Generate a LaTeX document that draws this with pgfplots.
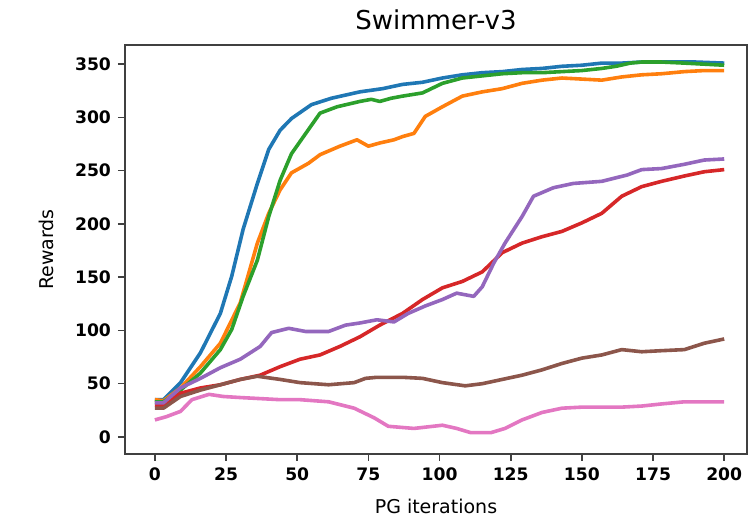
\documentclass[border=0pt]{standalone}
\usepackage{pgfplots}
\pgfplotsset{compat=1.18}
\usepackage{fontspec}
\setmainfont{DejaVu Sans}
\definecolor{c0}{HTML}{1F77B4}
\definecolor{c1}{HTML}{FF7F0E}
\definecolor{c2}{HTML}{2CA02C}
\definecolor{c3}{HTML}{D62728}
\definecolor{c4}{HTML}{9467BD}
\definecolor{c5}{HTML}{8C564B}
\definecolor{c6}{HTML}{E377C2}
\begin{document}
\begin{tikzpicture}
\useasboundingbox (0,0) rectangle (375.5pt,259pt);
\begin{axis}[
  at={(62.5pt,32pt)}, anchor=south west,
  scale only axis, width=311pt, height=204.5pt,
  xmin=-10.5, xmax=208, ymin=-16, ymax=368,
  xtick={0,25,...,200}, ytick={0,50,...,350},
  tick align=outside, major tick length=3.5pt,
  axis line style={draw=black!75, line width=0.8pt},
  tick style={draw=black!75, line width=0.8pt},
  xtick pos=bottom, ytick pos=left,
  /pgf/number format/assume math mode=true,
  tick label style={font=\bfseries\fontsize{8.6}{10}\selectfont},
  title={Swimmer-v3}, title style={font=\fontsize{13}{14}\selectfont, yshift=-2pt},
  xlabel={PG iterations}, ylabel={Rewards},
  label style={font=\fontsize{9.5}{11}\selectfont},
  xlabel style={yshift=-2pt}, ylabel style={yshift=4pt},
  every axis plot/.append style={line width=1.8pt, line join=round},
]
% blue
\addplot[c0] coordinates {(0,35)(3,35)(9,51)(16,79)(23,116)(27,151)(31,195)(36,238)(40,270)(44,288)(48,299)(55,312)(62,318)(72,324)(80,327)(87,331)(94,333)(101,337)(108,340)(115,342)(122,343)(129,345)(136,346)(143,348)(150,349)(157,351)(164,351)(171,352)(180,352)(190,352)(200,351)};
% orange
\addplot[c1] coordinates {(0,35)(3,34)(9,46)(16,66)(23,88)(30,126)(36,182)(40,210)(44,232)(48,248)(54,257)(58,265)(65,273)(71,279)(75,273)(79,276)(84,279)(87,282)(91,285)(95,301)(101,310)(108,320)(115,324)(122,327)(129,332)(136,335)(143,337)(150,336)(157,335)(164,338)(171,340)(178,341)(186,343)(193,344)(200,344)};
% green
\addplot[c2] coordinates {(0,33)(3,33)(9,44)(16,60)(23,82)(27,101)(31,132)(36,166)(40,207)(44,241)(48,266)(53,285)(58,304)(64,310)(72,315)(76,317)(79,315)(83,318)(87,320)(94,323)(101,332)(108,337)(115,339)(122,341)(129,342)(136,342)(143,343)(150,344)(157,346)(162,348)(167,351)(171,352)(178,352)(186,351)(193,350)(200,349)};
% red
\addplot[c3] coordinates {(0,30)(3,30)(9,41)(16,46)(23,49)(30,54)(37,58)(44,66)(51,73)(58,77)(65,85)(72,94)(79,105)(87,116)(94,129)(101,140)(108,146)(115,155)(122,173)(129,182)(136,188)(143,193)(150,201)(157,210)(164,226)(171,235)(178,240)(186,245)(193,249)(200,251)};
% purple
\addplot[c4] coordinates {(0,32)(3,32)(9,46)(16,55)(23,65)(30,73)(37,85)(41,98)(47,102)(53,99)(61,99)(67,105)(72,107)(78,110)(84,108)(89,116)(95,123)(101,129)(106,135)(112,132)(115,141)(119,163)(123,182)(129,207)(133,226)(140,234)(147,238)(157,240)(166,246)(171,251)(178,252)(186,256)(193,260)(200,261)};
% brown
\addplot[c5] coordinates {(0,27)(3,27)(9,38)(16,44)(23,49)(30,54)(36,57)(44,54)(51,51)(61,49)(70,51)(74,55)(78,56)(87,56)(94,55)(101,51)(109,48)(115,50)(122,54)(129,58)(136,63)(143,69)(150,74)(157,77)(164,82)(171,80)(178,81)(186,82)(193,88)(200,92)};
% pink
\addplot[c6] coordinates {(0,16)(4,19)(9,24)(13,35)(19,40)(24,38)(30,37)(37,36)(44,35)(51,35)(61,33)(70,27)(77,18)(82,10)(91,8)(101,11)(106,8)(111,4)(118,4)(123,8)(129,16)(136,23)(143,27)(150,28)(157,28)(164,28)(171,29)(178,31)(186,33)(193,33)(200,33)};
\end{axis}
\end{tikzpicture}
\end{document}
